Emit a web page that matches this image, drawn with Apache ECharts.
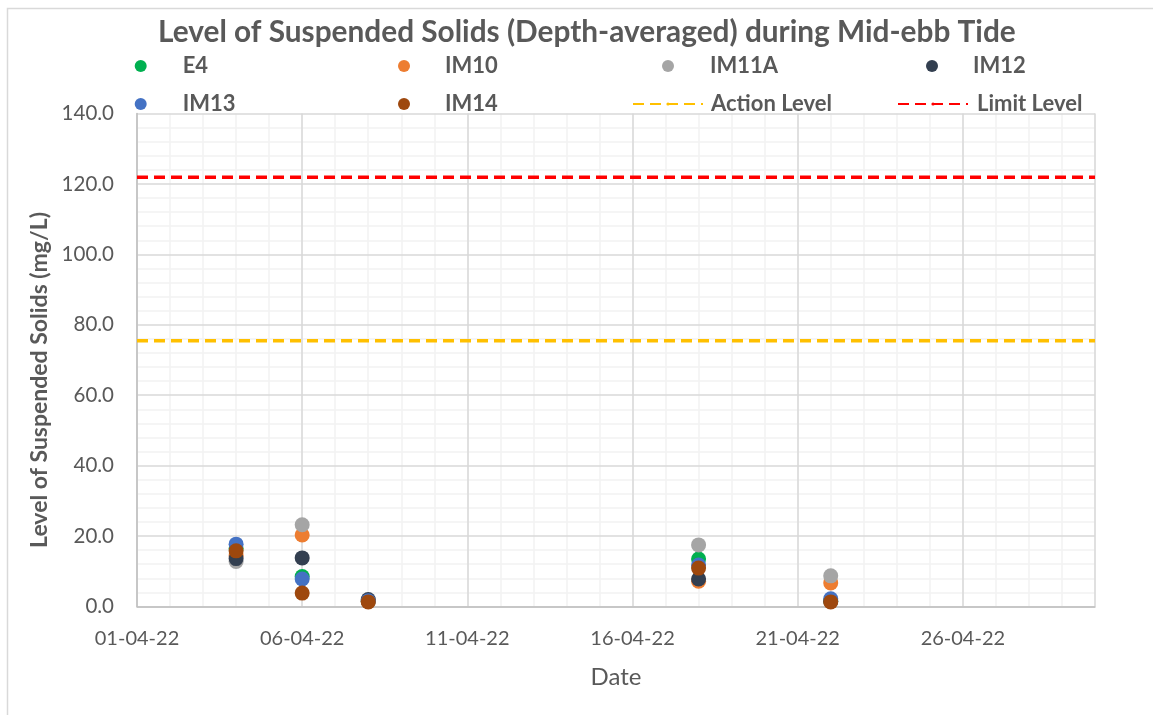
<!DOCTYPE html>
<html>
<head>
<meta charset="utf-8">
<script src="https://cdn.jsdelivr.net/npm/echarts@6/dist/echarts.min.js"></script>
<style>
html,body{margin:0;padding:0;background:#fff;}
#main{width:1153px;height:715px;}
</style>
</head>
<body>
<div id="main"></div>
<script>
// ---- data ----
const sampleDates = ['04-04-22', '06-04-22', '08-04-22', '18-04-22', '22-04-22'];
const E4    = [16.5, 8.5, 1.5, 13.5, 1.6];
const IM10  = [14.5, 20.3, 1.4, 7.2, 6.7];
const IM11A = [12.8, 23.2, 1.5, 17.5, 8.7];
const IM12  = [13.6, 13.8, 2.0, 7.8, 1.5];
const IM13  = [17.7, 7.8, 1.6, 11.8, 2.2];
const IM14  = [15.8, 3.8, 1.3, 10.9, 1.3];
const actionLevel = 75.5;
const limitLevel = 121.9;
const xTickLabels = ['01-04-22', '06-04-22', '11-04-22', '16-04-22', '21-04-22', '26-04-22', '30-04-22'];
const yTickLabels = ['0.0', '20.0', '40.0', '60.0', '80.0', '100.0', '120.0', '140.0'];
const seriesNames = ['E4', 'IM10', 'IM11A', 'IM12', 'IM13', 'IM14'];
const seriesValues = [E4, IM10, IM11A, IM12, IM13, IM14];
const seriesColors = ['#00b050', '#ed7d31', '#a5a5a5', '#333f50', '#4472c4', '#9e480e'];

// day index since 01-04-22
const dayIndex = sampleDates.map(d => parseInt(d.slice(0, 2), 10) - 1);
const xMin = 0, xMax = 29;

const FONT = 'Lato';
const GREY = '#595959';

const scatterSeries = seriesNames.map((name, i) => ({
  name: name,
  type: 'scatter',
  xAxisIndex: 0,
  symbol: 'circle',
  symbolSize: 15,
  itemStyle: { color: seriesColors[i], opacity: 1 },
  data: seriesValues[i].map((v, j) => [dayIndex[j], v]),
  z: 3
}));

const levelSeries = [
  { name: 'Action Level', value: actionLevel, color: '#ffc000' },
  { name: 'Limit Level', value: limitLevel, color: '#ff0000' }
].map(l => ({
  name: l.name,
  type: 'line',
  xAxisIndex: 0,
  symbol: 'none',
  showSymbol: false,
  silent: true,
  lineStyle: { color: l.color, width: 3.5, type: [11, 6] },
  itemStyle: { color: l.color },
  data: [[xMin, l.value], [xMax, l.value]],
  z: 4
}));

// legend layout (one legend per item)
const legendSpec = [
  { name: 'E4', left: 134.7, top: 55, pad: 31, w: 12, h: 12 },
  { name: 'IM10', left: 398, top: 55, pad: 30, w: 12, h: 12 },
  { name: 'IM11A', left: 662, top: 55, pad: 31, w: 12, h: 12 },
  { name: 'IM12', left: 926, top: 55, pad: 30, w: 12, h: 12 },
  { name: 'IM13', left: 134.7, top: 93, pad: 31, w: 12, h: 12 },
  { name: 'IM14', left: 398, top: 93, pad: 30, w: 12, h: 12 },
  { name: 'Action Level', left: 632, top: 93, pad: 3, w: 70, h: 4 },
  { name: 'Limit Level', left: 897, top: 93, pad: 4, w: 70, h: 4 }
];
const legends = legendSpec.map(s => ({
  data: [s.name],
  left: s.left,
  top: s.top,
  padding: 0,
  itemWidth: s.w,
  itemHeight: s.h,
  selectedMode: false,
  textStyle: { fontFamily: FONT, fontSize: 22, fontWeight: 'bold', color: GREY, padding: [0, 0, 0, s.pad] }
}));

const chart = echarts.init(document.getElementById('main'), null, { renderer: 'canvas' });
chart.setOption({
  backgroundColor: '#ffffff',
  animation: false,
  title: {
    text: 'Level of Suspended Solids (Depth-averaged) during Mid-ebb Tide',
    left: 158,
    top: 17,
    padding: 0,
    textStyle: { fontFamily: FONT, fontSize: 29.8, fontWeight: 'bold', color: GREY }
  },
  legend: legends,
  graphic: [{
    type: 'rect',
    left: 5, top: 6,
    shape: { x: 0, y: 0, width: 1170, height: 730 },
    style: { fill: 'none', stroke: '#d9d9d9', lineWidth: 1.5 },
    silent: true, z: -10
  }],
  grid: { left: 137, right: 58, top: 113.5, bottom: 108.5, containLabel: false },
  xAxis: [{
    type: 'value',
    min: xMin, max: xMax, interval: 5,
    z: 1,
    name: 'Date',
    nameLocation: 'middle',
    nameGap: 59,
    nameTextStyle: { fontFamily: FONT, fontSize: 24, color: GREY },
    axisLine: { show: true, onZero: false, lineStyle: { color: '#bfbfbf', width: 1.5 } },
    axisTick: { show: false },
    axisLabel: {
      fontFamily: FONT, fontSize: 20, color: GREY, margin: 22,
      showMaxLabel: false,
      formatter: v => xTickLabels[Math.round(v / 5)] || ''
    },
    splitLine: { show: true, lineStyle: { color: '#d9d9d9', width: 1.5 } }
  }, {
    type: 'value',
    min: xMin, max: xMax, interval: 1,
    z: 0,
    position: 'top',
    axisLine: { show: false },
    axisTick: { show: false },
    axisLabel: { show: false },
    splitLine: { show: true, lineStyle: { color: '#f2f2f2', width: 1.5 } }
  }],
  yAxis: {
    type: 'value',
    min: 0, max: 140, interval: 20,
    z: 1,
    name: 'Level of Suspended Solids (mg/L)',
    nameLocation: 'middle',
    nameGap: 78,
    nameTextStyle: { fontFamily: FONT, fontSize: 23, fontWeight: 'bold', color: GREY, padding: [0, 40, 0, 0] },
    axisLine: { show: true, lineStyle: { color: '#bfbfbf', width: 1.5 } },
    axisTick: { show: false },
    axisLabel: {
      fontFamily: FONT, fontSize: 20.5, color: GREY, margin: 23,
      formatter: v => yTickLabels[Math.round(v / 20)]
    },
    splitLine: { show: true, lineStyle: { color: '#d9d9d9', width: 1.5 } },
    minorTick: { show: false, splitNumber: 5 },
    minorSplitLine: { show: true, lineStyle: { color: '#f2f2f2', width: 1.5 } }
  },
  series: scatterSeries.concat(levelSeries)
});
</script>
</body>
</html>
